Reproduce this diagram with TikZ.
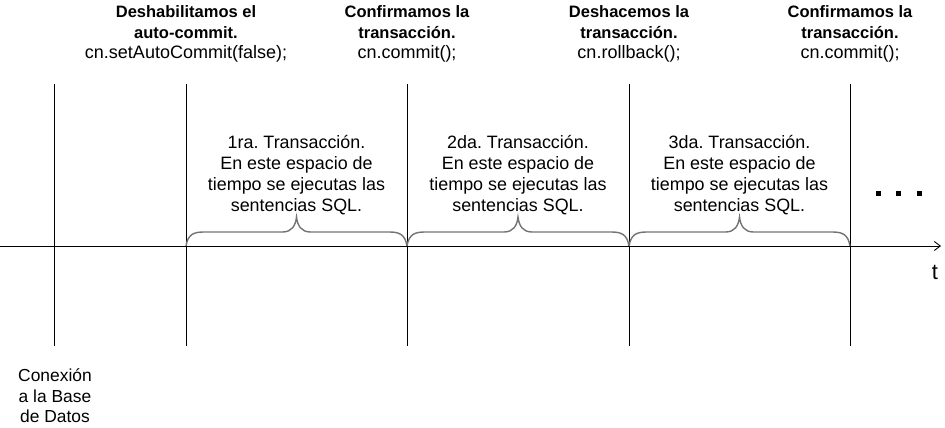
\documentclass[tikz,border=0pt]{standalone}
\usepackage{fontspec}
\setmainfont{Liberation Sans}
\frenchspacing
\usetikzlibrary{arrows.meta}
\tikzset{
  vline/.style={draw=black, line width=0.9pt},
  axisline/.style={draw=black, line width=0.9pt, -{Straight Barb[length=6pt,width=9pt,line width=0.9pt]}},
  bracepath/.style={draw=gray!90!black, line width=1.4pt},
  toplabel/.style={align=center, inner sep=0pt, font=\fontsize{16.5}{20.5}\selectfont\bfseries},
  midlabel/.style={align=center, inner sep=0pt, font=\fontsize{17.9}{21}\selectfont},
  botlabel/.style={align=center, inner sep=0pt, font=\fontsize{17.4}{20.5}\selectfont},
  dotbox/.style={fill=black, minimum size=5pt, inner sep=0pt, draw=none},
}
\newcommand{\code}[1]{{\mdseries\fontsize{18}{20.5}\selectfont #1}}
\newcommand{\drawbrace}[2]{%
  \pgfmathsetmacro{\bxm}{(#1+#2)/2}
  \draw[bracepath] (#1,246) .. controls (#1+2,234) and (#1+8,232) .. (#1+18,232)
    -- (\bxm-14,232) .. controls (\bxm-5,232) and (\bxm-1,226) .. (\bxm,217)
    .. controls (\bxm+1,226) and (\bxm+5,232) .. (\bxm+14,232)
    -- (#2-18,232) .. controls (#2-8,232) and (#2-2,234) .. (#2,246);
}
\begin{document}
\begin{tikzpicture}[x=1pt,y=-1pt]
\useasboundingbox (0,0) rectangle (945,428);

% vertical lines
\foreach \n/\x in {v0/54,v1/186,v2/407,v3/629,v4/850}{
  \coordinate (\n t) at (\x,84);
  \coordinate (\n b) at (\x,346);
  \draw[vline] (\n t) -- (\n b);
}

% braces
\drawbrace{186}{407}
\drawbrace{407}{629}
\drawbrace{629}{850}

% time axis
\coordinate (ax0) at (0,246);
\coordinate (ax1) at (941,246);
\draw[axisline] (ax0) -- (ax1);
\node[font=\fontsize{22}{24}\selectfont, inner sep=0pt] (tlab) at (935,272) {t};

% top labels
\node[toplabel] (l1) at (186,34) {Deshabilitamos el\\auto-commit.\\\code{cn.setAutoCommit(false);}};
\node[toplabel] (l2) at (407,34) {Confirmamos la\\transacción.\\\code{cn.commit();}};
\node[toplabel] (l3) at (629,34) {Deshacemos la\\transacción.\\\code{cn.rollback();}};
\node[toplabel] (l4) at (850,34) {Confirmamos la\\transacción.\\\code{cn.commit();}};

% middle labels
\node[midlabel] (m1) at (296.5,175) {1ra. Transacción.\\En este espacio de\\tiempo se ejecutas las\\sentencias SQL.};
\node[midlabel] (m2) at (518,175) {2da. Transacción.\\En este espacio de\\tiempo se ejecutas las\\sentencias SQL.};
\node[midlabel] (m3) at (739.5,175) {3da. Transacción.\\En este espacio de\\tiempo se ejecutas las\\sentencias SQL.};

% dots
\node[dotbox] (d1) at (878,193) {};
\node[dotbox] (d2) at (898,193) {};
\node[dotbox] (d3) at (919,193) {};

% bottom label
\node[botlabel] (conn) at (55,396) {Conexión\\a la Base\\de Datos};
\end{tikzpicture}
\end{document}
